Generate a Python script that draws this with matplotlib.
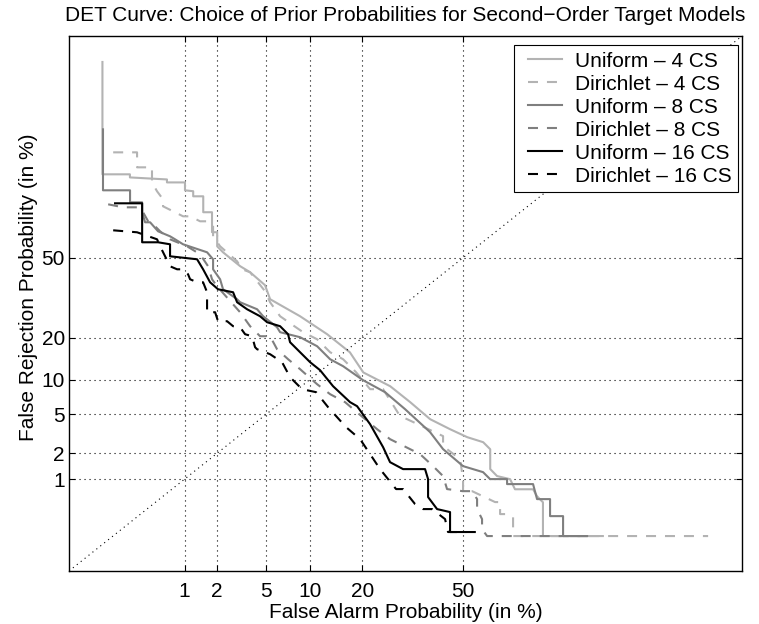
import math
from statistics import NormalDist
import numpy as np
import matplotlib
matplotlib.use("Agg")
import matplotlib.pyplot as plt
from matplotlib.lines import Line2D
from matplotlib.legend_handler import HandlerLine2D
from matplotlib.ticker import FixedLocator, NullLocator

plt.rcParams["font.family"] = ["Liberation Sans", "DejaVu Sans"]
plt.rcParams["font.size"] = 15

# ---------------- data (all values in %) ---------------- #
ticks = [1, 2, 5, 10, 20, 50]
tick_labels = ["1", "2", "5", "10", "20", "50"]
lims = [0.05, 99]

labels = ["Uniform \u2013 4 CS", "Dirichlet \u2013 4 CS",
          "Uniform \u2013 8 CS", "Dirichlet \u2013 8 CS",
          "Uniform \u2013 16 CS", "Dirichlet \u2013 16 CS"]

# Uniform - 4 CS
u4_fa = [0.13, 0.13, 0.27, 0.27, 0.67, 0.67, 1.01, 1.01, 1.21, 1.21,
         1.50, 1.50, 1.80, 1.80, 2.0, 2.0, 2.25, 3.13, 3.76, 4.90,
         5.35, 8.66, 12.8, 17.2, 20.2, 27.1, 32.9, 39.1, 45.6, 51.3,
         56.6, 58.9, 58.9, 61.1, 65.2, 66.7, 72.0, 73.1, 74.7, 74.7, 87.8]
u4_miss = [98.0, 80.9, 80.9, 80.0, 79.4, 78.5, 78.5, 76.0, 75.7, 74.0,
           74.0, 68.3, 68.3, 60.5, 60.5, 54.7, 52.2, 46.4, 43.9, 38.6,
           33.1, 26.9, 21.05, 16.0, 11.4, 8.84, 6.45, 4.49, 3.58, 2.97,
           2.63, 2.21, 1.32, 1.09, 1.0, 0.75, 0.75, 0.61, 0.51, 0.173, 0.173]

# Dirichlet - 4 CS
d4_fa = [0.174, 0.324, 0.324, 0.469, 0.469, 0.530, 0.611, 0.611, 0.773, 0.968,
         1.131, 1.402, 1.660, 1.840, 1.840, 2.121, 2.954, 3.243, 3.761, 4.904,
         5.345, 6.317, 7.415, 9.063, 11.12, 13.32, 15.79, 18.55, 21.84, 25.17,
         29.90, 31.96, 43.31, 43.31, 48.94, 49.93, 49.93, 52.93, 60.47, 62.07,
         62.07, 64.27, 66.12, 66.12, 97.95]
d4_miss = [86.54, 86.54, 82.83, 82.83, 78.52, 75.67, 72.97, 70.48, 68.64, 66.76,
           66.76, 64.84, 64.84, 62.87, 58.84, 54.72, 48.45, 45.11, 43.87, 36.18,
           31.96, 26.90, 24.53, 21.67, 19.57, 16.02, 14.30, 11.44, 8.355, 8.355,
           4.797, 4.489, 3.043, 2.388, 1.718, 1.002, 0.710, 0.710, 0.513, 0.513,
           0.354, 0.354, 0.322, 0.173, 0.173]

# Uniform - 8 CS
u8_fa = [0.132, 0.132, 0.271, 0.271, 0.368, 0.368, 0.396, 0.448, 0.543, 0.720,
         0.808, 0.968, 1.625, 1.840, 1.840, 2.121, 2.249, 2.954, 3.126, 4.265,
         4.740, 6.007, 6.317, 8.660, 11.12, 13.32, 15.79, 20.15, 25.70, 31.36,
         39.09, 43.31, 49.93, 56.56, 58.85, 64.27, 64.27, 71.99, 73.1, 76.56,
         76.56, 79.76, 79.76, 84.93]
u8_miss = [91.09, 76.0, 76.0, 71.91, 71.91, 68.27, 64.45, 64.45, 60.87, 58.84,
           57.61, 55.55, 52.22, 49.29, 45.11, 40.99, 36.97, 33.09, 31.96, 29.38,
           26.90, 23.23, 21.67, 20.16, 17.61, 14.30, 12.71, 9.901, 7.882, 5.575,
           3.343, 2.216, 1.428, 1.214, 1.002, 1.002, 0.870, 0.870, 0.561, 0.561,
           0.332, 0.332, 0.173, 0.173]

# Dirichlet - 8 CS
d8_fa = [0.152, 0.226, 0.333, 0.377, 0.427, 0.506, 0.570, 0.720, 1.058, 1.402,
         1.660, 1.801, 1.995, 3.126, 3.761, 4.494, 5.345, 6.007, 7.186, 8.660,
         11.12, 13.32, 16.20, 20.63, 23.60, 27.06, 32.85, 35.92, 40.05, 43.31,
         44.62, 49.74, 52.93, 54.59, 54.59, 56.23, 56.23, 57.88, 85.5]
d8_miss = [71.20, 70.12, 70.12, 68.27, 64.84, 62.87, 60.87, 57.61, 54.72, 51.38,
           46.36, 40.99, 38.16, 28.30, 23.56, 20.45, 20.45, 16.80, 14.30, 12.07,
           9.191, 7.578, 6.451, 4.489, 3.58, 2.830, 2.216, 1.953, 1.428, 1.088,
           0.754, 0.710, 0.710, 0.561, 0.414, 0.302, 0.218, 0.173, 0.173]

# Uniform - 16 CS
u16_fa = [0.183, 0.368, 0.368, 0.543, 0.720, 0.720, 1.316, 1.495, 1.730, 2.035,
          2.737, 2.954, 3.558, 4.494, 5.078, 6.317, 7.186, 7.415, 8.660, 10.06,
          11.60, 13.86, 17.24, 18.77, 21.84, 25.17, 27.06, 30.77, 37.49, 38.45,
          38.45, 41.35, 45.61, 45.61, 50.6]
u16_miss = [71.56, 71.56, 56.38, 56.38, 55.55, 50.54, 49.29, 45.11, 39.77, 36.97,
            35.79, 31.96, 29.38, 26.90, 24.87, 23.56, 21.05, 18.71, 16.02, 13.60,
            11.86, 8.843, 6.451, 5.938, 4.013, 2.328, 1.586, 1.318, 1.318, 1.002,
            0.596, 0.414, 0.377, 0.198, 0.198]

# Dirichlet - 16 CS
d16_fa = [0.174, 0.324, 0.530, 0.570, 0.720, 0.846, 0.968, 1.081, 1.131, 1.316,
          1.495, 1.625, 1.625, 1.917, 2.035, 2.436, 2.737, 3.126, 3.432, 3.899,
          4.115, 4.265, 5.345, 6.525, 7.415, 8.924, 10.97, 12.96, 16.40, 19.46,
          21.84, 24.37, 28.75, 30.77, 31.96, 34.37, 36.86, 39.73, 43.96, 44.95, 56.56]
d16_miss = [61.27, 60.47, 57.61, 54.72, 46.36, 45.11, 45.11, 43.05, 40.99, 39.77,
            39.77, 35.79, 28.30, 28.30, 25.20, 25.20, 23.56, 23.23, 21.05, 20.45,
            17.34, 16.80, 15.52, 13.60, 10.46, 8.355, 7.882, 5.817, 3.752, 2.830,
            1.953, 1.318, 0.754, 0.754, 0.651, 0.483, 0.414, 0.414, 0.302, 0.198, 0.198]

# ---------------- normal deviate scale ---------------- #
_nd = NormalDist()
_ppf = np.vectorize(_nd.inv_cdf, otypes=[float])
_cdf = np.vectorize(lambda z: 0.5 * (1.0 + math.erf(z / math.sqrt(2.0))), otypes=[float])


def pct_to_dev(pct):
    p = np.asarray(pct, dtype=float) / 100.0
    p = np.where(np.isfinite(p), np.clip(p, 1e-12, 1 - 1e-12), 0.5)
    return _ppf(p)


def dev_to_pct(z):
    z = np.asarray(z, dtype=float)
    return 100.0 * _cdf(np.where(np.isfinite(z), z, 0.0))


# ---------------- plot ---------------- #
fig = plt.figure(figsize=(7.59, 6.24), dpi=100)
ax = fig.add_axes([69 / 759, 53 / 624, 673 / 759, 535 / 624])

ax.set_xscale("function", functions=(pct_to_dev, dev_to_pct))
ax.set_yscale("function", functions=(pct_to_dev, dev_to_pct))

light = "#b3b3b3"
mid = "#7f7f7f"
dash = (0, (4.8, 4.3))
lw = 1.5

ax.plot(u4_fa, u4_miss, color=light, lw=lw, label=labels[0])
ax.plot(d4_fa, d4_miss, color=light, lw=lw, ls=dash, label=labels[1])
ax.plot(u8_fa, u8_miss, color=mid, lw=lw, label=labels[2])
ax.plot(d8_fa, d8_miss, color=mid, lw=lw, ls=dash, label=labels[3])
ax.plot(u16_fa, u16_miss, color="black", lw=lw, label=labels[4])
ax.plot(d16_fa, d16_miss, color="black", lw=lw, ls=dash, label=labels[5])

# diagonal (equal error line)
ax.plot(lims, lims, color="black", lw=0.8, ls=(0, (1, 3.5)))

ax.set_xlim(lims)
ax.set_ylim(lims)
for axis in (ax.xaxis, ax.yaxis):
    axis.set_major_locator(FixedLocator(ticks))
    axis.set_minor_locator(NullLocator())
ax.set_xticklabels(tick_labels)
ax.set_yticklabels(tick_labels)
ax.tick_params(direction="in", length=4, width=0.8, top=True, right=True)
ax.tick_params(axis="x", pad=8)
ax.tick_params(axis="y", pad=3)
ax.grid(True, color="black", lw=0.8, ls=(0, (1, 3.5)))
for s in ax.spines.values():
    s.set_linewidth(1.0)

ax.set_xlabel("False Alarm Probability (in %)", labelpad=1)
ax.set_ylabel("False Rejection Probability (in %)")
ax.yaxis.set_label_coords(-0.046, 0.53)
ax.set_title("DET Curve: Choice of Prior Probabilities for Second\u2212Order Target Models",
             fontsize=15, pad=11)

leg = ax.legend(loc="upper right", bbox_to_anchor=(0.994, 0.983), borderaxespad=0,
                fancybox=False, edgecolor="black", framealpha=1,
                handlelength=2.0, handletextpad=0.58, labelspacing=0.19,
                borderpad=0.32,
                handler_map={Line2D: HandlerLine2D(xpad=0.33)})
leg.get_frame().set_linewidth(0.8)

fig.savefig("out.png", dpi=100)
